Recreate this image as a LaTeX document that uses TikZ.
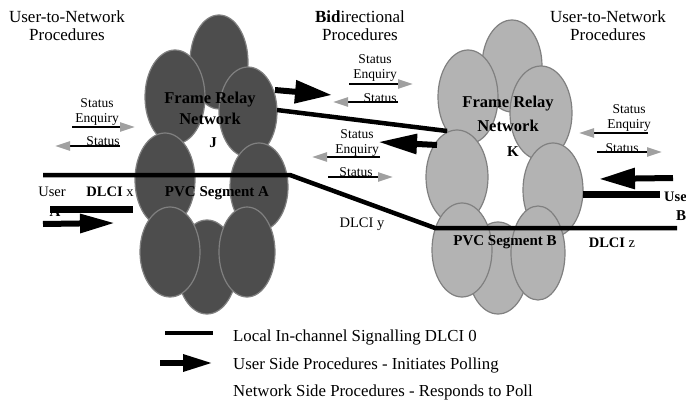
\documentclass[tikz,border=0pt]{standalone}
\usepackage{fontspec}
\setmainfont{Liberation Serif}
\usetikzlibrary{arrows.meta}
\definecolor{relaydark}{RGB}{77,77,77}
\definecolor{relaylight}{RGB}{179,179,179}
\definecolor{rimgray}{RGB}{128,128,128}
\definecolor{tipgray}{RGB}{160,160,160}
\tikzset{>=stealth}
\tikzset{cell/.style={draw=rimgray, line width=1.2pt},
  pvc/.style={line width=4.5pt},
  localbar/.style={line width=7pt},
  poll/.style={line width=6pt, -{Triangle[length=36pt,width=20pt]}},
  reply/.style={line width=2.4pt, -{Triangle[length=15pt,width=9pt,color=tipgray]}},
  heading/.style={font=\fontsize{17}{18}\selectfont, align=center},
  msg/.style={font=\fontsize{13.5}{15}\selectfont, align=center, inner sep=0pt},
  tag/.style={font=\fontsize{14.5}{16}\selectfont, inner sep=0pt},
  boldtag/.style={font=\fontsize{15}{22}\selectfont\bfseries, align=center, inner sep=0pt},
  keytext/.style={font=\fontsize{16.8}{17}\selectfont, anchor=west, inner sep=0pt}}

\begin{document}
\begin{tikzpicture}[x=1pt,y=-1pt]
	\useasboundingbox (0,0) rectangle (686,404);

	% network J
	\foreach \cx/\cy/\rx/\ry in {219/62/29/47, 207/267/30/47, 175/97/30/47, 248/112/29/45, 165/180/30/47, 259/187/29/44, 170/252/30/45, 247/252/28/45}
		\draw[cell, fill=relaydark] (\cx,\cy) ellipse [x radius=\rx, y radius=\ry];
	% network K
	\foreach \cx/\cy/\rx/\ry in {512/66/30/46, 498/268/30/46, 468/97/30/47, 541/113/31/47, 457/177/31/47, 553/190/30/47, 462/250/30/47, 538/253/27/47}
		\draw[cell, fill=relaylight] (\cx,\cy) ellipse [x radius=\rx, y radius=\ry];

	\node[heading] (headL) at (67,26) {User-to-Network\\Procedures};
	\node[heading] (headM) at (360,26) {\textbf{Bid}irectional\\Procedures};
	\node[heading] (headR) at (608,26) {User-to-Network\\Procedures};

	\node[boldtag, font=\fontsize{16.5}{21}\selectfont\bfseries] (relayJ) at (210,108) {Frame Relay\\Network};
	\node[boldtag] (nameJ) at (213,143) {J};
	\node[boldtag, font=\fontsize{16.5}{24}\selectfont\bfseries] (relayK) at (508,114) {Frame Relay\\Network};
	\node[boldtag] (nameK) at (513,152) {K};
	\node[boldtag] (segA) at (217,193) {PVC Segment A};
	\node[boldtag] (segB) at (505,242) {PVC Segment B};

	\node[tag] (userA) at (52,192) {User};
	\node[boldtag] (siteA) at (55,212) {A};
	\node[tag] (dlciX) at (110,192) {\textbf{DLCI} x};
	\node[tag] (dlciY) at (362,224) {DLCI y};
	\node[tag] (dlciZ) at (612,243) {\textbf{DLCI} z};
	\node[tag, anchor=west] (userB) at (664,197) {\textbf{Use}};
	\node[boldtag] (siteB) at (681,216) {B};

	% PVC
	\coordinate (endA) at (43,175);
	\coordinate (bendJ) at (290,175);
	\coordinate (bendK) at (435,228);
	\coordinate (endB) at (677,228);
	\draw[pvc] (endA) -- (bendJ) -- (bendK) -- (endB);
	\coordinate (linkJ) at (277,110);
	\coordinate (linkK) at (447,131);
	\draw[pvc] (linkJ) -- (linkK);

	\coordinate (barAa) at (50,209);
	\coordinate (barAb) at (133,209);
	\draw[localbar] (barAa) -- (barAb);
	\coordinate (barBa) at (583,194);
	\coordinate (barBb) at (660,194);
	\draw[localbar] (barBa) -- (barBb);

	% polling arrows
	\coordinate (pollAa) at (43,224);
	\coordinate (pollAb) at (115,223);
	\draw[poll, -{Triangle[length=35pt,width=18pt]}] (pollAa) -- (pollAb);
	\coordinate (pollJa) at (275,90);
	\coordinate (pollJb) at (332,95);
	\draw[poll, -{Triangle[length=37pt,width=22pt]}] (pollJa) -- (pollJb);
	\coordinate (pollKa) at (437,145);
	\coordinate (pollKb) at (378,142);
	\draw[poll, -{Triangle[length=39pt,width=19pt]}] (pollKa) -- (pollKb);
	\coordinate (pollBa) at (673,178);
	\coordinate (pollBb) at (599,179);
	\draw[poll] (pollBa) -- (pollBb);

	% status messages
	\node[msg] (enqL) at (97,112) {Status\\Enquiry};
	\coordinate (enqLa) at (72,127);
	\coordinate (enqLb) at (135,127);
	\draw[reply] (enqLa) -- (enqLb);
	\node[msg] (staL) at (103,141) {Status};
	\coordinate (staLa) at (120,146);
	\coordinate (staLb) at (55,146);
	\draw[reply] (staLa) -- (staLb);

	\node[msg] (enqM) at (375,68) {Status\\Enquiry};
	\coordinate (enqMa) at (349,84);
	\coordinate (enqMb) at (413,84);
	\draw[reply] (enqMa) -- (enqMb);
	\node[msg] (staM) at (380,98) {Status};
	\coordinate (staMa) at (398,102);
	\coordinate (staMb) at (333,102);
	\draw[reply] (staMa) -- (staMb);

	\node[msg] (enqN) at (357,143) {Status\\Enquiry};
	\coordinate (enqNa) at (380,157);
	\coordinate (enqNb) at (312,157);
	\draw[reply] (enqNa) -- (enqNb);
	\node[msg] (staN) at (356,172) {Status};
	\coordinate (staNa) at (328,177);
	\coordinate (staNb) at (393,177);
	\draw[reply] (staNa) -- (staNb);

	\node[msg] (enqR) at (629,118) {Status\\Enquiry};
	\coordinate (enqRa) at (648,133);
	\coordinate (enqRb) at (579,133);
	\draw[reply] (enqRa) -- (enqRb);
	\node[msg] (staR) at (622,148) {Status};
	\coordinate (staRa) at (597,152);
	\coordinate (staRb) at (662,152);
	\draw[reply] (staRa) -- (staRb);

	% key
	\coordinate (keyLa) at (165,333);
	\coordinate (keyLb) at (213,333);
	\draw[pvc] (keyLa) -- (keyLb);
	\coordinate (keyPa) at (160,363);
	\coordinate (keyPb) at (213,363);
	\draw[poll, -{Triangle[length=30pt,width=16pt]}] (keyPa) -- (keyPb);
	\node[keytext] (keyLocal) at (233,337) {Local In-channel Signalling DLCI 0};
	\node[keytext] (keyUser) at (233,365) {User Side Procedures - Initiates Polling};
	\node[keytext] (keyNet) at (233,392) {Network Side Procedures - Responds to Poll};

\end{tikzpicture}
\end{document}
